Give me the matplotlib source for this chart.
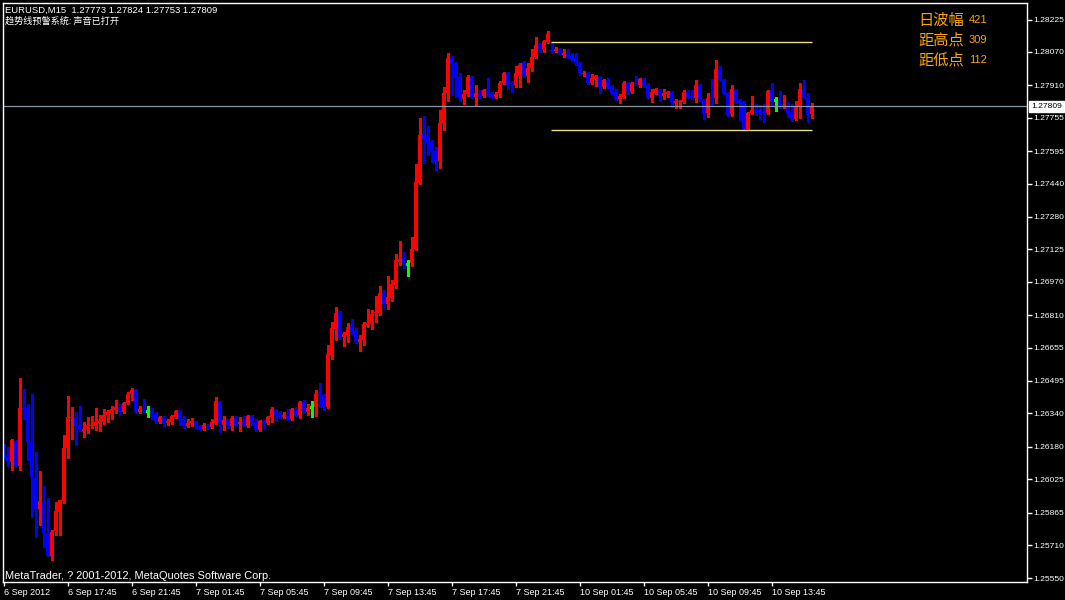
import numpy as np
import matplotlib
matplotlib.use("Agg")
import matplotlib.pyplot as plt
from matplotlib.transforms import ScaledTranslation, blended_transform_factory

# EURUSD M15 bars, 6 Sep 13:45 .. 10 Sep 16:15
opens = [
    1.26170, 1.26141, 1.26108, 1.26208, 1.26088, 1.26366, 1.26366, 1.26203, 1.26031, 1.25883,
    1.25921, 1.25768, 1.25658, 1.25777, 1.25868, 1.25921, 1.26175, 1.26318, 1.26323, 1.26285,
    1.26256, 1.26266, 1.26280, 1.26280, 1.26294, 1.26299, 1.26333, 1.26342, 1.26356, 1.26371,
    1.26347, 1.26390, 1.26433, 1.26452, 1.26347, 1.26361, 1.26352, 1.26352, 1.26337, 1.26299,
    1.26323, 1.26294, 1.26299, 1.26323, 1.26352, 1.26313, 1.26280, 1.26294, 1.26299, 1.26280,
    1.26266, 1.26285, 1.26275, 1.26294, 1.26395, 1.26285, 1.26309, 1.26280, 1.26318, 1.26289,
    1.26299, 1.26280, 1.26328, 1.26299, 1.26261, 1.26304, 1.26294, 1.26323, 1.26356, 1.26342,
    1.26323, 1.26333, 1.26313, 1.26361, 1.26333, 1.26395, 1.26347, 1.26371, 1.26371, 1.26433,
    1.26428, 1.26371, 1.26620, 1.26744, 1.26825, 1.26706, 1.26715, 1.26763, 1.26734, 1.26682,
    1.26691, 1.26763, 1.26768, 1.26821, 1.26821, 1.26916, 1.26864, 1.26892, 1.26955, 1.27065,
    1.27084, 1.27055, 1.27060, 1.27127, 1.27443, 1.27677, 1.27672, 1.27639, 1.27596, 1.27548,
    1.27730, 1.27873, 1.28041, 1.28017, 1.27950, 1.27845, 1.27869, 1.27950, 1.27854, 1.27873,
    1.27859, 1.27892, 1.27873, 1.27854, 1.27873, 1.27921, 1.27969, 1.27921, 1.27912, 1.27955,
    1.28022, 1.27955, 1.27993, 1.28046, 1.28108, 1.28084, 1.28117, 1.28084, 1.28074, 1.28084,
    1.28055, 1.28065, 1.28050, 1.28041, 1.28017, 1.27964, 1.27969, 1.27921, 1.27940, 1.27950,
    1.27902, 1.27936, 1.27907, 1.27878, 1.27845, 1.27854, 1.27921, 1.27878, 1.27921, 1.27912,
    1.27940, 1.27912, 1.27849, 1.27873, 1.27888, 1.27859, 1.27869, 1.27878, 1.27825, 1.27830,
    1.27830, 1.27878, 1.27859, 1.27849, 1.27912, 1.27840, 1.27778, 1.27854, 1.27849, 1.27988,
    1.27936, 1.27873, 1.27773, 1.27888, 1.27840, 1.27830, 1.27701, 1.27778, 1.27797, 1.27792,
    1.27782, 1.27778, 1.27888, 1.27840, 1.27840, 1.27806, 1.27811, 1.27782, 1.27749, 1.27806,
    1.27892, 1.27854, 1.27773,
]
highs = [
    1.26194, 1.26179, 1.26218, 1.26213, 1.26510, 1.26457, 1.26385, 1.26433, 1.26155, 1.26065,
    1.25993, 1.25935, 1.25782, 1.25916, 1.25926, 1.26237, 1.26423, 1.26371, 1.26347, 1.26376,
    1.26299, 1.26323, 1.26328, 1.26366, 1.26333, 1.26361, 1.26356, 1.26376, 1.26404, 1.26385,
    1.26395, 1.26443, 1.26462, 1.26457, 1.26376, 1.26409, 1.26376, 1.26366, 1.26347, 1.26328,
    1.26328, 1.26313, 1.26333, 1.26356, 1.26356, 1.26328, 1.26313, 1.26318, 1.26304, 1.26285,
    1.26294, 1.26289, 1.26313, 1.26419, 1.26400, 1.26328, 1.26313, 1.26328, 1.26328, 1.26323,
    1.26328, 1.26333, 1.26333, 1.26313, 1.26309, 1.26309, 1.26328, 1.26371, 1.26361, 1.26352,
    1.26347, 1.26361, 1.26366, 1.26371, 1.26400, 1.26404, 1.26385, 1.26400, 1.26452, 1.26486,
    1.26433, 1.26667, 1.26778, 1.26849, 1.26830, 1.26730, 1.26773, 1.26792, 1.26749, 1.26715,
    1.26778, 1.26840, 1.26835, 1.26902, 1.26950, 1.26931, 1.26998, 1.26979, 1.27103, 1.27165,
    1.27112, 1.27074, 1.27184, 1.27534, 1.27754, 1.27763, 1.27715, 1.27648, 1.27615, 1.27792,
    1.27902, 1.28065, 1.28050, 1.28022, 1.27969, 1.27888, 1.27959, 1.27955, 1.27912, 1.27888,
    1.27892, 1.27945, 1.27878, 1.27878, 1.27931, 1.27974, 1.27974, 1.27931, 1.28002, 1.28017,
    1.28026, 1.28017, 1.28084, 1.28141, 1.28113, 1.28127, 1.28170, 1.28118, 1.28093, 1.28089,
    1.28084, 1.28084, 1.28065, 1.28065, 1.28022, 1.27979, 1.27974, 1.27964, 1.27959, 1.27955,
    1.27940, 1.27945, 1.27912, 1.27892, 1.27869, 1.27931, 1.27926, 1.27926, 1.27955, 1.27945,
    1.27945, 1.27921, 1.27892, 1.27897, 1.27892, 1.27892, 1.27883, 1.27883, 1.27845, 1.27840,
    1.27888, 1.27888, 1.27888, 1.27936, 1.27916, 1.27845, 1.27873, 1.27940, 1.28031, 1.28002,
    1.27940, 1.27878, 1.27912, 1.27892, 1.27845, 1.27835, 1.27782, 1.27859, 1.27821, 1.27816,
    1.27821, 1.27888, 1.27921, 1.27854, 1.27883, 1.27864, 1.27830, 1.27821, 1.27835, 1.27921,
    1.27936, 1.27873, 1.27824,
]
lows = [
    1.26127, 1.26088, 1.26069, 1.26084, 1.26069, 1.26313, 1.26117, 1.25844, 1.25749, 1.25806,
    1.25701, 1.25658, 1.25639, 1.25758, 1.25758, 1.25911, 1.26127, 1.26218, 1.26189, 1.26256,
    1.26227, 1.26246, 1.26270, 1.26261, 1.26256, 1.26289, 1.26299, 1.26313, 1.26342, 1.26333,
    1.26342, 1.26385, 1.26404, 1.26342, 1.26342, 1.26347, 1.26323, 1.26313, 1.26294, 1.26294,
    1.26280, 1.26285, 1.26289, 1.26318, 1.26285, 1.26270, 1.26275, 1.26280, 1.26266, 1.26261,
    1.26261, 1.26266, 1.26270, 1.26289, 1.26251, 1.26261, 1.26270, 1.26261, 1.26280, 1.26256,
    1.26280, 1.26275, 1.26285, 1.26256, 1.26256, 1.26270, 1.26289, 1.26299, 1.26304, 1.26318,
    1.26318, 1.26309, 1.26309, 1.26328, 1.26318, 1.26342, 1.26333, 1.26323, 1.26328, 1.26371,
    1.26356, 1.26366, 1.26600, 1.26691, 1.26696, 1.26663, 1.26682, 1.26720, 1.26677, 1.26639,
    1.26667, 1.26754, 1.26744, 1.26778, 1.26811, 1.26840, 1.26840, 1.26878, 1.26940, 1.27050,
    1.27036, 1.26998, 1.27046, 1.27122, 1.27438, 1.27538, 1.27577, 1.27543, 1.27505, 1.27514,
    1.27697, 1.27835, 1.27864, 1.27854, 1.27835, 1.27821, 1.27859, 1.27849, 1.27811, 1.27849,
    1.27854, 1.27854, 1.27849, 1.27849, 1.27854, 1.27916, 1.27892, 1.27878, 1.27902, 1.27902,
    1.27950, 1.27926, 1.27979, 1.28041, 1.28069, 1.28069, 1.28113, 1.28065, 1.28069, 1.28060,
    1.28046, 1.28041, 1.28031, 1.28007, 1.27959, 1.27955, 1.27916, 1.27916, 1.27907, 1.27873,
    1.27897, 1.27897, 1.27869, 1.27840, 1.27825, 1.27849, 1.27869, 1.27873, 1.27912, 1.27902,
    1.27902, 1.27845, 1.27830, 1.27869, 1.27835, 1.27845, 1.27854, 1.27806, 1.27802, 1.27802,
    1.27825, 1.27849, 1.27845, 1.27830, 1.27835, 1.27749, 1.27758, 1.27816, 1.27825, 1.27931,
    1.27869, 1.27763, 1.27763, 1.27825, 1.27744, 1.27697, 1.27699, 1.27773, 1.27768, 1.27749,
    1.27735, 1.27773, 1.27816, 1.27787, 1.27802, 1.27802, 1.27758, 1.27739, 1.27744, 1.27754,
    1.27849, 1.27735, 1.27753,
]
closes = [
    1.26136, 1.26108, 1.26213, 1.26088, 1.26366, 1.26356, 1.26203, 1.26036, 1.25883, 1.25921,
    1.25768, 1.25658, 1.25773, 1.25873, 1.25926, 1.26175, 1.26323, 1.26323, 1.26280, 1.26261,
    1.26266, 1.26285, 1.26285, 1.26299, 1.26304, 1.26333, 1.26347, 1.26361, 1.26371, 1.26352,
    1.26390, 1.26433, 1.26452, 1.26347, 1.26361, 1.26352, 1.26352, 1.26337, 1.26304, 1.26323,
    1.26294, 1.26304, 1.26328, 1.26352, 1.26313, 1.26280, 1.26294, 1.26304, 1.26280, 1.26266,
    1.26285, 1.26270, 1.26299, 1.26400, 1.26294, 1.26309, 1.26280, 1.26318, 1.26285, 1.26299,
    1.26285, 1.26328, 1.26299, 1.26261, 1.26304, 1.26289, 1.26323, 1.26361, 1.26333, 1.26323,
    1.26333, 1.26313, 1.26361, 1.26333, 1.26395, 1.26347, 1.26366, 1.26371, 1.26433, 1.26423,
    1.26371, 1.26624, 1.26749, 1.26821, 1.26701, 1.26720, 1.26754, 1.26730, 1.26682, 1.26696,
    1.26768, 1.26773, 1.26816, 1.26825, 1.26916, 1.26864, 1.26897, 1.26959, 1.27074, 1.27079,
    1.27060, 1.27055, 1.27127, 1.27447, 1.27672, 1.27653, 1.27634, 1.27591, 1.27543, 1.27730,
    1.27873, 1.28041, 1.28017, 1.27945, 1.27845, 1.27869, 1.27950, 1.27854, 1.27873, 1.27854,
    1.27888, 1.27873, 1.27854, 1.27869, 1.27921, 1.27969, 1.27912, 1.27916, 1.27969, 1.28007,
    1.27955, 1.27993, 1.28046, 1.28103, 1.28084, 1.28122, 1.28156, 1.28074, 1.28084, 1.28065,
    1.28065, 1.28046, 1.28036, 1.28017, 1.27969, 1.27969, 1.27921, 1.27945, 1.27955, 1.27902,
    1.27936, 1.27902, 1.27873, 1.27845, 1.27859, 1.27921, 1.27878, 1.27921, 1.27916, 1.27940,
    1.27907, 1.27849, 1.27878, 1.27892, 1.27864, 1.27873, 1.27878, 1.27825, 1.27835, 1.27835,
    1.27878, 1.27854, 1.27849, 1.27912, 1.27840, 1.27778, 1.27849, 1.27849, 1.27988, 1.27936,
    1.27873, 1.27768, 1.27892, 1.27830, 1.27825, 1.27701, 1.27778, 1.27792, 1.27787, 1.27778,
    1.27778, 1.27883, 1.27835, 1.27840, 1.27806, 1.27811, 1.27778, 1.27749, 1.27811, 1.27892,
    1.27854, 1.27768, 1.27809,
]

time_labels = ["6 Sep 2012", "6 Sep 17:45", "6 Sep 21:45", "7 Sep 01:45", "7 Sep 05:45",
               "7 Sep 09:45", "7 Sep 13:45", "7 Sep 17:45", "7 Sep 21:45", "10 Sep 01:45",
               "10 Sep 05:45", "10 Sep 09:45", "10 Sep 13:45"]
bars_per_label = 16
price_ticks = [1.28225, 1.28070, 1.27910, 1.27755, 1.27595, 1.27440, 1.27280, 1.27125,
               1.26970, 1.26810, 1.26655, 1.26495, 1.26340, 1.26180, 1.26025, 1.25865,
               1.25710, 1.25550]
day_start = 137  # first bar of 10 Sep

W, H = 1065, 600
fig = plt.figure(figsize=(W / 100, H / 100), dpi=100, facecolor='black')
ax = fig.add_axes([3 / W, 18 / H, 1024 / W, 579 / H], facecolor='black')

o, h, l, c = (np.array(v) for v in (opens, highs, lows, closes))
x = np.arange(len(o))
up, eq = c > o, np.isclose(c, o)
col = np.where(eq, '#00ff00', np.where(up, '#ff0000', '#0000ff'))

# wicks, bodies, doji crosses
ax.vlines(x, l, h, colors=col, linewidth=1, antialiased=False)
body = ~eq
ax.bar(x[body], np.maximum(np.abs(c - o), 0.00004)[body], bottom=np.minimum(o, c)[body],
       width=0.75, color=col[body], linewidth=0, antialiased=False)
ax.hlines(o[eq], x[eq] - 0.375, x[eq] + 0.375, colors='#00ff00', linewidth=1, antialiased=False)

# bid line and today's high / low
bid = closes[-1]
day_hi = max(highs[day_start:])
day_lo = min(lows[day_start:])
ax.axhline(bid, color='#8896a6', linewidth=0.9)
ax.hlines([day_hi, day_lo], day_start - 0.1, len(o) - 1, colors='#f0e08c', linewidth=1)

ax.set_xlim(-0.125, 255.875)
ax.set_ylim(1.25533, 1.28304)

for s in ax.spines.values():
    s.set_color('white')
    s.set_linewidth(1)

ax.yaxis.tick_right()
ax.set_yticks(price_ticks, [f"{v:.5f}" for v in price_ticks])
ax.set_xticks([bars_per_label * k for k in range(len(time_labels))], time_labels)
ax.tick_params(axis='y', colors='white', direction='out', length=3.5, width=1, pad=1.2,
               labelsize=6.1, labelfontfamily='Liberation Sans')
ax.tick_params(axis='x', colors='white', direction='out', length=3, width=1, pad=1.5,
               labelsize=6.5, labelfontfamily='Liberation Sans')
for lab in ax.get_xticklabels():
    lab.set_ha('left')
    lab.set_transform(lab.get_transform() + ScaledTranslation(0.01, 0, fig.dpi_scale_trans))

trans = blended_transform_factory(ax.transAxes, ax.transData)
ax.text(1.004, bid, f"{bid:.5f}", transform=trans, ha='left', va='center', color='black',
        fontsize=6.1, family='Liberation Sans',
        bbox=dict(boxstyle='square,pad=0.25', fc='white', ec='white'))

# header texts
cjk = ['Noto Sans CJK SC', 'DejaVu Sans']
fig.text(5 / W, 1 - 10.5 / H,
         f"EURUSD,M15  {opens[-1]:.5f} {highs[-1]:.5f} {lows[-1]:.5f} {closes[-1]:.5f}",
         color='white', fontsize=6.8, family='Liberation Sans', va='center')
fig.text(5 / W, 1 - 21 / H, "趋势线预警系统: 声音已打开", color='white', fontsize=6.6,
         family=cjk, va='center')

pts = 1e5
info = [("日波幅", round((day_hi - day_lo) * pts)),
        ("距高点", round((day_hi - bid) * pts)),
        ("距低点", round((bid - day_lo) * pts))]
for k, (name, val) in enumerate(info):
    yy = 1 - (20 + 20 * k) / H
    fig.text(918 / W, yy, name, color='#ffa500', fontsize=11, family=cjk, va='center')
    fig.text(969 / W, yy, str(val), color='#ffa500', fontsize=8, family='Liberation Sans',
             va='center')

fig.text(5 / W, 1 - 576 / H, "MetaTrader, ? 2001-2012, MetaQuotes Software Corp.",
         color='white', fontsize=7.9, family='Liberation Sans', va='center')

fig.savefig("out.png", dpi=100, facecolor='black')
